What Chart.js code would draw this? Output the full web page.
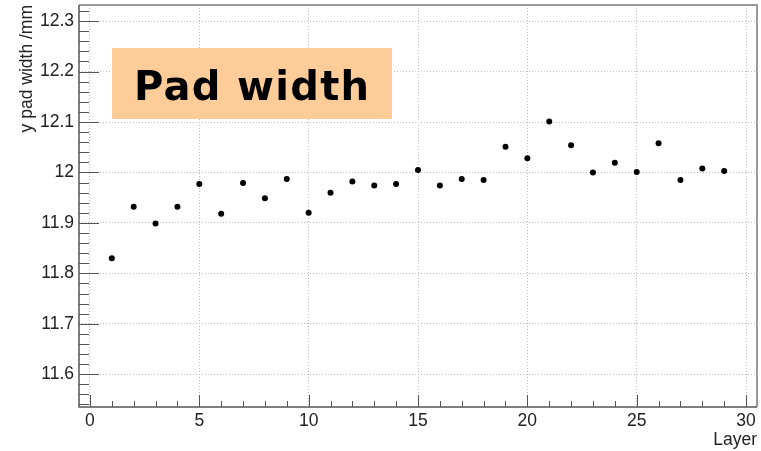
<!DOCTYPE html>
<html>
<head>
<meta charset="utf-8">
<script src="https://cdn.jsdelivr.net/npm/chart.js@4"></script>
<style>
  html, body { margin: 0; padding: 0; background: #fff; }
  #wrap { position: relative; width: 761px; height: 451px; }
</style>
</head>
<body>
<div id="wrap"><canvas id="chart" width="761" height="451"></canvas></div>
<script>
const layers = [1, 2, 3, 4, 5, 6, 7, 8, 9, 10, 11, 12, 13, 14, 15, 16, 17, 18, 19, 20, 21, 22, 23, 24, 25, 26, 27, 28, 29];
const padWidth = [11.830, 11.932, 11.899, 11.932, 11.977, 11.918, 11.979, 11.949, 11.987, 11.920,
                  11.960, 11.982, 11.974, 11.977, 12.005, 11.974, 11.987, 11.985, 12.051, 12.028,
                  12.101, 12.054, 12.000, 12.019, 12.001, 12.058, 11.985, 12.008, 12.003];
// tick labels on both axes
const xTicks = [0, 5, 10, 15, 20, 25, 30];
const yTicks = [11.6, 11.7, 11.8, 11.9, 12.0, 12.1, 12.2, 12.3];

const points = layers.map((l, i) => ({x: l, y: padWidth[i]}));
const font = 'Liberation Sans';

// ROOT style ticks point into the frame, so draw them ourselves from the scales
const frameTicks = {
    id: 'frameTicks',
    afterDraw(chart) {
        const c = chart.ctx;
        const a = chart.chartArea;
        const xs = chart.scales.x, ys = chart.scales.y;
        c.save();
        c.strokeStyle = '#555';
        c.lineWidth = 1;
        // y ticks every 0.02, long ones every 0.1
        for (let k = Math.ceil(ys.min * 50); k <= Math.floor(ys.max * 50); k++) {
            const py = Math.round(ys.getPixelForValue(k / 50)) + 0.5;
            const len = k % 5 === 0 ? 20 : 10;
            c.beginPath(); c.moveTo(a.left, py); c.lineTo(a.left + len, py); c.stroke();
        }
        // x ticks every 1, long ones every 5
        for (let k = Math.ceil(xs.min); k <= Math.floor(xs.max); k++) {
            const px = Math.round(xs.getPixelForValue(k)) + 0.5;
            const len = k % 5 === 0 ? 12 : 6;
            c.beginPath(); c.moveTo(px, a.bottom); c.lineTo(px, a.bottom - len); c.stroke();
        }
        // frame
        c.strokeStyle = '#999';
        c.lineWidth = 2;
        c.beginPath(); c.moveTo(a.left, a.top); c.lineTo(a.right, a.top); c.lineTo(a.right, a.bottom); c.stroke();
        c.strokeStyle = '#555';
        c.lineWidth = 1.5;
        c.beginPath(); c.moveTo(a.left, a.top); c.lineTo(a.left, a.bottom); c.lineTo(a.right, a.bottom); c.stroke();

        // title box
        c.fillStyle = '#fecc99';
        c.fillRect(112, 48, 280, 71);
        c.fillStyle = '#000';
        c.font = 'bold 40px "DejaVu Sans"';
        c.letterSpacing = '1.3px';
        c.textBaseline = 'alphabetic';
        c.textAlign = 'left';
        c.fillText('Pad width', 134, 100);
        c.restore();
    }
};

const ctx = document.getElementById('chart').getContext('2d');
const myChart = new Chart(ctx, {
    type: 'scatter',
    data: {
        datasets: [{
            data: points,
            backgroundColor: '#000',
            borderColor: '#000',
            pointRadius: 3,
            pointBorderWidth: 0
        }]
    },
    options: {
        responsive: false,
        animation: false,
        layout: {padding: {top: 5, right: 3, left: 0, bottom: 0}},
        plugins: {legend: {display: false}, tooltip: {enabled: false}},
        scales: {
            x: {
                type: 'linear',
                min: -0.5,
                max: 30.5,
                afterBuildTicks: s => { s.ticks = xTicks.map(v => ({value: v})); },
                afterFit: s => { s.height = 44; s.paddingLeft = 0; s.paddingRight = 0; },
                grid: {color: '#bbb', drawTicks: false},
                border: {display: false, dash: [1, 2]},
                ticks: {
                    color: '#222',
                    padding: 4,
                    font: {family: font, size: 17.5},
                    maxRotation: 0,
                    callback: v => String(v)
                },
                title: {
                    display: true, text: 'Layer', align: 'end', color: '#222',
                    font: {family: font, size: 17.5},
                    padding: {top: 0, bottom: 0.5}
                }
            },
            y: {
                min: 11.535,
                max: 12.332,
                afterBuildTicks: s => { s.ticks = yTicks.map(v => ({value: v})); },
                afterFit: s => { s.width = 79; s.paddingTop = 0; s.paddingBottom = 0; },
                grid: {color: '#bbb', drawTicks: false},
                border: {display: false, dash: [1, 2]},
                ticks: {
                    color: '#222',
                    padding: 5,
                    font: {family: font, size: 17.5},
                    callback: v => String(Number(v.toFixed(2)))
                },
                title: {
                    display: true, text: 'y pad width /mm', align: 'end', color: '#222',
                    font: {family: font, size: 17.5},
                    padding: {top: 16.5, bottom: 0}
                }
            }
        }
    },
    plugins: [frameTicks]
});
</script>
</body>
</html>
